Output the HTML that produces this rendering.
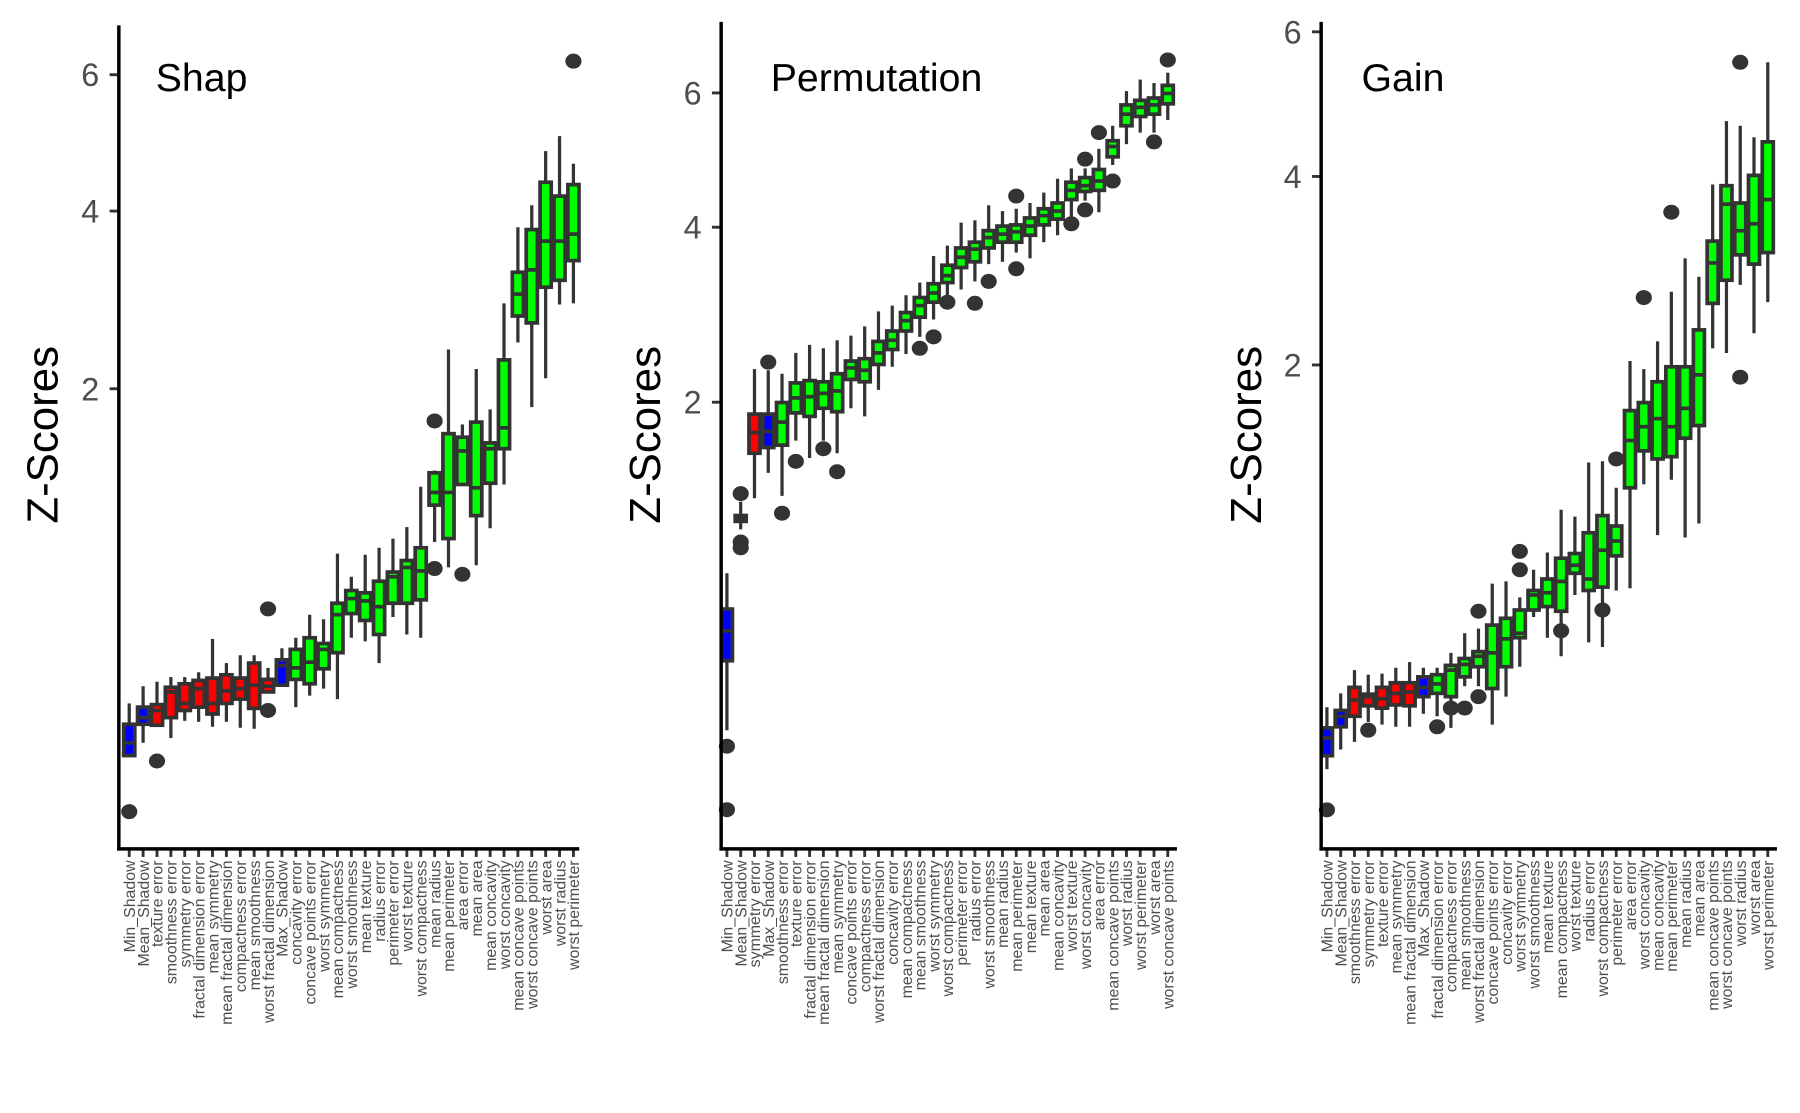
<!DOCTYPE html>
<html><head><meta charset="utf-8"><style>
html,body{margin:0;padding:0;background:#fff;}
svg{display:block;}
text{font-family:"Liberation Sans",Arial,sans-serif;}
</style></head><body>
<svg id="chart" width="1800" height="1113" viewBox="0 0 1560 965" preserveAspectRatio="none" xmlns="http://www.w3.org/2000/svg"></svg>
<script>
// ---------- Panel 1: Shap ----------
const shapNames = ["Min_Shadow","Mean_Shadow","texture error","smoothness error","symmetry error","fractal dimension error","mean symmetry","mean fractal dimension","compactness error","mean smoothness","worst fractal dimension","Max_Shadow","concavity error","concave points error","worst symmetry","mean compactness","worst smoothness","mean texture","radius error","perimeter error","worst texture","worst compactness","mean radius","mean perimeter","area error","mean area","mean concavity","worst concavity","mean concave points","worst concave points","worst area","worst radius","worst perimeter"];
const shapLo  = [.042,.061,.093,.069,.102,.100,.090,.100,.088,.086,.172,.188,.133,.162,.181,.153,.352,.338,.260,.438,.365,.352,.826,.681,1.207,.693,.911,1.207,2.454,1.832,2.099,2.863,2.876];
const shapQ1  = [.042,.095,.093,.109,.125,.133,.117,.142,.153,.130,.172,.191,.208,.195,.241,.296,.453,.423,.365,.500,.500,.516,1.062,.847,1.207,.992,1.216,1.480,2.736,2.661,3.059,3.139,3.373];
const shapMed = [.061,.109,.125,.172,.142,.181,.142,.175,.181,.191,.188,.252,.244,.263,.308,.448,.522,.511,.484,.631,.681,.662,1.150,1.150,1.462,1.183,1.480,1.652,2.980,3.262,3.614,3.614,3.702];
const shapQ3  = [.095,.133,.139,.185,.195,.205,.212,.222,.212,.260,.208,.271,.308,.352,.330,.500,.561,.550,.608,.656,.719,.792,1.293,1.603,1.574,1.701,1.527,2.278,3.234,3.760,4.389,4.200,4.357];
const shapHi  = [.142,.188,.201,.215,.215,.230,.347,.260,.287,.287,.244,.312,.352,.448,.428,.758,.631,.752,.792,.847,.918,1.191,1.310,2.383,1.681,2.188,1.812,2.876,3.790,4.077,4.830,5.050,4.648];
const shapOut = [[.0004],[],[.035],[],[],[],[],[],[],[],[.474,.125],[],[],[],[],[],[],[],[],[],[],[],[1.711,.675],[],[.644],[],[],[],[],[],[],[],[6.221]];
const shapTicks = [2,4,6];

// ---------- Panel 2: Permutation ----------
const permNames = ["Min_Shadow","Mean_Shadow","symmetry error","Max_Shadow","smoothness error","texture error","fractal dimension error","mean fractal dimension","mean symmetry","concave points error","compactness error","worst fractal dimension","concavity error","mean compactness","mean smoothness","worst symmetry","worst compactness","perimeter error","radius error","worst smoothness","mean radius","mean perimeter","mean texture","mean area","mean concavity","worst texture","worst concavity","area error","mean concave points","worst radius","worst perimeter","worst area","worst concave points"];
const permLo  = [.100,.977,1.194,1.387,1.211,1.653,1.507,1.653,1.546,1.943,1.868,2.119,2.350,2.482,2.667,2.860,3.019,3.209,3.307,3.521,3.550,3.668,3.594,3.802,3.893,4.125,4.363,4.203,4.877,5.189,5.367,5.367,5.565];
const permQ1  = [.301,1.031,1.546,1.594,1.614,1.900,1.868,1.943,1.911,2.221,2.198,2.373,2.530,2.731,2.886,3.059,3.293,3.478,3.550,3.727,3.802,3.802,3.893,4.031,4.109,4.379,4.493,4.509,4.998,5.474,5.620,5.657,5.823];
const permMed = [.421,1.055,1.723,1.733,1.816,2.041,2.052,2.085,2.108,2.338,2.314,2.494,2.630,2.847,3.019,3.168,3.378,3.608,3.712,3.862,3.908,3.938,4.015,4.156,4.219,4.509,4.575,4.642,5.154,5.657,5.767,5.805,5.992];
const permQ3  = [.521,1.071,1.889,1.889,1.997,2.187,2.210,2.198,2.279,2.409,2.433,2.617,2.731,2.939,3.114,3.279,3.507,3.727,3.802,3.954,4.015,4.031,4.125,4.251,4.331,4.625,4.692,4.810,5.242,5.805,5.879,5.917,6.125];
const permHi  = [.708,1.169,2.326,2.314,2.279,2.494,2.580,2.543,2.630,2.680,2.782,2.952,3.019,3.141,3.293,3.623,3.757,4.062,4.093,4.299,4.219,4.251,4.331,4.477,4.675,4.826,4.826,5.119,5.474,6.030,6.221,6.163,6.337];
const permOut = [[.069,.0025],[1.228,.895,.859],[],[2.397],[1.087],[1.479],[],[1.584],[1.396],[],[],[],[],[],[2.543],[2.667],[3.059],[],[3.046],[3.307],[],[4.428,3.463],[],[],[],[4.046],[4.963,4.235],[5.367],[4.642],[],[],[5.224],[6.553]];
const permTicks = [2,4,6];

// ---------- Panel 3: Gain ----------
const gainNames = ["Min_Shadow","Mean_Shadow","smoothness error","symmetry error","texture error","mean symmetry","mean fractal dimension","Max_Shadow","fractal dimension error","compactness error","mean smoothness","worst fractal dimension","concave points error","concavity error","worst symmetry","worst smoothness","mean texture","mean compactness","worst texture","radius error","worst compactness","perimeter error","area error","worst concavity","mean concavity","mean perimeter","mean radius","mean area","mean concave points","worst concave points","worst radius","worst area","worst perimeter"];
const gainLo  = [.025,.048,.059,.093,.088,.084,.084,.109,.104,.082,.173,.173,.088,.147,.227,.398,.321,.259,.489,.305,.289,.509,.519,1.088,.784,1.118,.771,.849,2.149,2.107,2.766,2.288,2.590];
const gainQ1  = [.040,.084,.104,.126,.121,.128,.126,.147,.155,.147,.198,.227,.167,.227,.321,.426,.440,.421,.588,.509,.524,.674,1.066,1.316,1.259,1.275,1.408,1.503,2.578,2.814,3.085,2.985,3.110];
const gainMed = [.065,.104,.139,.147,.142,.155,.158,.170,.179,.217,.234,.259,.270,.317,.337,.489,.499,.550,.627,.561,.703,.752,1.391,1.494,1.556,1.494,1.637,1.914,2.997,3.663,3.354,3.434,3.718];
const gainQ3  = [.082,.116,.170,.153,.170,.182,.182,.198,.204,.231,.252,.274,.367,.393,.426,.509,.561,.662,.686,.797,.895,.835,1.619,1.683,1.855,1.984,1.984,2.320,3.237,3.886,3.677,4.014,4.442];
const gainHi  = [.123,.155,.217,.204,.207,.224,.241,.224,.224,.270,.337,.354,.540,.550,.479,.605,.691,.930,.889,1.235,1.243,1.066,2.035,1.964,2.213,2.695,3.047,2.850,3.900,4.718,4.655,4.502,5.545];
const gainOut = [[.001],[],[],[.078],[],[],[],[],[.084],[.121],[.121],[.421,.147],[],[],[.697,.605],[],[],[.346],[],[],[.426],[1.259],[],[2.636],[],[3.568],[],[],[],[],[5.545,1.894],[],[]];
const gainTicks = [2,4,6];

const NS = "http://www.w3.org/2000/svg";
const svg = document.getElementById("chart");
function mk(tag, attrs, parent){
  const e = document.createElementNS(NS, tag);
  for (const k in attrs) e.setAttribute(k, attrs[k]);
  (parent||svg).appendChild(e);
  return e;
}

const panels = [
  {key:"shap", title:"Shap", names:shapNames, lo:shapLo, q1:shapQ1, med:shapMed, q3:shapQ3, hi:shapHi, out:shapOut, ticks:shapTicks,
   axisX:103, x0:112, step:12.03, axisEnd:502, top:22, y0:709, k:263, titleX:135, zx:50, tickLx:86,
   colorRed:[2,3,4,5,6,7,8,9,10]},
  {key:"permutation", title:"Permutation", names:permNames, lo:permLo, q1:permQ1, med:permMed, q3:permQ3, hi:permHi, out:permOut, ticks:permTicks,
   axisX:625, x0:630, step:11.94, axisEnd:1020, top:19, y0:715, k:259, titleX:668, zx:572, tickLx:608,
   colorRed:[2]},
  {key:"gain", title:"Gain", names:gainNames, lo:gainLo, q1:gainQ1, med:gainMed, q3:gainQ3, hi:gainHi, out:gainOut, ticks:gainTicks,
   axisX:1145, x0:1150, step:11.94, axisEnd:1540, top:19, y0:711, k:279, titleX:1180, zx:1093, tickLx:1128,
   colorRed:[2,3,4,5,6]}
];
const AXIS_Y = 736;

panels.forEach(p => {
  const g = mk("g", {});
  
  
  const yS = v => p.y0 - p.k * Math.sqrt(Math.max(v,0));
  const xS = i => p.x0 + i * p.step;

  const zt = mk("text", {x:p.zx, y:377, "font-size":38, fill:"#000", "text-anchor":"middle", transform:`rotate(-90 ${p.zx} 377)`}, g);
  zt.textContent = "Z-Scores";
  
  

  const tt = mk("text", {x:p.titleX, y:79, "font-size":34, fill:"#000"}, g);
  tt.textContent = p.title;
  
  

  p.ticks.forEach(t => {
    const y = yS(t);
    const tk = mk("line", {x1:p.axisX-8, x2:p.axisX, y1:y, y2:y, stroke:"#333", "stroke-width":2.5}, g);
    
    
    const tl = mk("text", {x:p.tickLx, y:y+10, "font-size":28, fill:"#4d4d4d", "text-anchor":"end"}, g);
    tl.textContent = String(t);
    
    
  });

  const n = p.names.length;
  const bw = p.step * 0.8;
  for (let i = 0; i < n; i++) {
    const nm = p.names[i];
    const x = xS(i);
    let fill = "#00ff00";
    if (nm.indexOf("Shadow") >= 0) fill = "#0000ff";
    else if (p.colorRed.indexOf(i) >= 0) fill = "#ff0000";
    const bg = mk("g", {}, g);
    
    
    mk("line", {x1:x, x2:x, y1:yS(p.hi[i]), y2:yS(p.lo[i]), stroke:"#333", "stroke-width":2.8}, bg);
    const yt = yS(p.q3[i]), yb = yS(p.q1[i]);
    mk("rect", {x:x-bw/2, y:yt, width:bw, height:Math.max(yb-yt,0.5), fill:fill, stroke:"#333", "stroke-width":3.2}, bg);
    const ym = yS(p.med[i]);
    mk("line", {x1:x-bw/2, x2:x+bw/2, y1:ym, y2:ym, stroke:"#333", "stroke-width":3.2}, bg);
    p.out[i].forEach(o => {
      const c = mk("ellipse", {cx:x, cy:yS(o), rx:7, ry:6.5, fill:"#333"}, bg);
      
      
    });
    const xt = mk("line", {x1:x, x2:x, y1:AXIS_Y, y2:AXIS_Y+7, stroke:"#333", "stroke-width":2.5}, g);
    
    
    const lx = x + 5, ly = AXIS_Y + 10;
    const xl = mk("text", {x:lx, y:ly, "font-size":13.8, fill:"#4d4d4d", "text-anchor":"end", transform:`rotate(-90 ${lx} ${ly})`}, g);
    xl.textContent = nm;
    
    
  }

  const ya = mk("line", {x1:p.axisX, x2:p.axisX, y1:p.top, y2:AXIS_Y+1.5, stroke:"#000", "stroke-width":3}, g);
  
  
  const xa = mk("line", {x1:p.axisX-1.5, x2:p.axisEnd, y1:AXIS_Y, y2:AXIS_Y, stroke:"#000", "stroke-width":3}, g);
  
  
});
</script>
</body></html>
